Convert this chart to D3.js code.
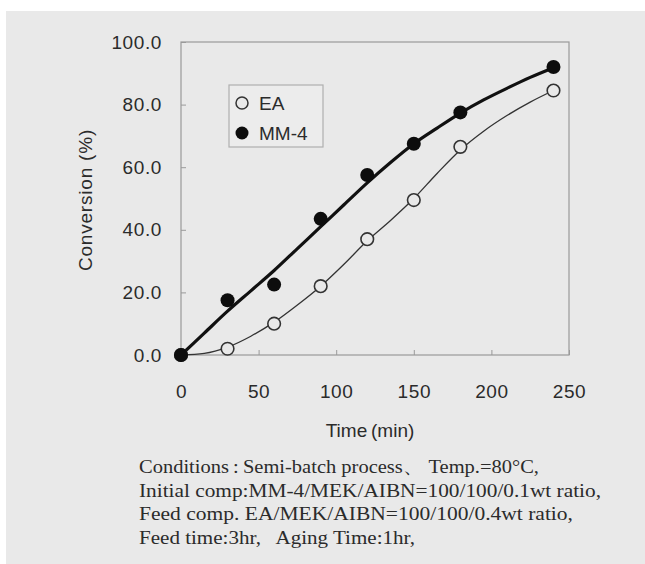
<!DOCTYPE html>
<html>
<head>
<meta charset="utf-8">
<script src="https://cdn.jsdelivr.net/npm/d3@7"></script>
<style>
  html, body { margin: 0; padding: 0; background: #ffffff; }
  svg { display: block; }
</style>
</head>
<body>
<div id="chart"></div>
<script>
"use strict";

// measured points (min, %)
var times = [0, 30, 60, 90, 120, 150, 180, 240];
var convEA = [0, 2, 10, 22, 37, 49.5, 66.5, 84.5];
var convMM4 = [0, 17.5, 22.5, 43.5, 57.5, 67.5, 77.5, 92];

// fitted curves
var fitTimes = [0, 15, 30, 45, 60, 75, 90, 105, 120, 135, 150, 165, 180, 195, 210, 225, 240];
var fitEA = [0, 0.5, 2.5, 6, 10.5, 16, 22, 29, 36.5, 43, 50, 58, 65.5, 71.5, 76.5, 80.8, 84.5];
var fitMM4 = [0, 7, 14, 20.5, 27, 34, 41, 48, 55, 61.5, 67.5, 72.5, 77.3, 81.5, 85.2, 88.7, 91.8];

var xTicks = [0, 50, 100, 150, 200, 250];
var yTicks = [0, 20, 40, 60, 80, 100];

var notes = [
  "Conditions\u2009:\u2009Semi-batch process\u3001 Temp.=80\u00B0C,",
  "Initial comp:MM-4/MEK/AIBN=100/100/0.1wt ratio,",
  "Feed comp. EA/MEK/AIBN=100/100/0.4wt ratio,",
  "Feed time:3hr,\u2002 Aging Time:1hr,"
];
// rendered width of each note line in the original
var noteWidths = [400, 462, 434, 276];

var W = 645, H = 564;
var bg = "#e9e9e9",
    ink = "#2b2b2b",
    frame = "#9a9a9a",
    sans = "'Liberation Sans', Arial, sans-serif",
    serif = "'Liberation Serif', 'Times New Roman', serif";

var svg = d3.select("#chart")
  .append("svg")
  .attr("width", W)
  .attr("height", H);

// gray panel
svg.append("rect")
  .attr("x", 6).attr("y", 11)
  .attr("width", W - 6).attr("height", H - 11)
  .attr("fill", bg);

var x = d3.scaleLinear().domain([0, 250]).range([181, 569]);
var y = d3.scaleLinear().domain([0, 100]).range([355, 42]);

// plot frame
svg.append("rect")
  .attr("x", x(0)).attr("y", y(100))
  .attr("width", x(250) - x(0)).attr("height", y(0) - y(100))
  .attr("fill", "none")
  .attr("stroke", frame)
  .attr("stroke-width", 1.2);

var yAxis = svg.append("g")
  .attr("transform", "translate(" + x(0) + ",0)")
  .call(d3.axisLeft(y).tickValues(yTicks).tickSize(-5).tickPadding(19).tickFormat(d3.format(".1f")));

var xAxis = svg.append("g")
  .attr("transform", "translate(0," + y(0) + ")")
  .call(d3.axisBottom(x).tickValues(xTicks).tickSize(-5).tickPadding(30));

[xAxis, yAxis].forEach(function(g) {
  g.select(".domain").remove();
  g.selectAll(".tick line").attr("stroke", frame).attr("stroke-width", 1);
  g.selectAll(".tick text")
    .attr("fill", ink)
    .style("font-family", sans)
    .style("font-size", "19px")
    .style("letter-spacing", "0.6px");
});

// axis titles
svg.append("text")
  .attr("x", 370).attr("y", 437)
  .attr("text-anchor", "middle")
  .attr("fill", ink)
  .style("font-family", sans)
  .style("font-size", "19px")
  .text("Time\u2009(min)");

svg.append("text")
  .attr("transform", "translate(92,200) rotate(-90)")
  .attr("text-anchor", "middle")
  .attr("fill", ink)
  .style("font-family", sans)
  .style("font-size", "19px")
  .style("letter-spacing", "0.8px")
  .text("Conversion (%)");

// fitted curves
var line = d3.line()
  .x(function(d) { return x(d[0]); })
  .y(function(d) { return y(d[1]); })
  .curve(d3.curveMonotoneX);

svg.append("path")
  .datum(fitTimes.map(function(t, i) { return [t, fitEA[i]]; }))
  .attr("d", line)
  .attr("fill", "none")
  .attr("stroke", "#333")
  .attr("stroke-width", 1.3);

svg.append("path")
  .datum(fitTimes.map(function(t, i) { return [t, fitMM4[i]]; }))
  .attr("d", line)
  .attr("fill", "none")
  .attr("stroke", "#111")
  .attr("stroke-width", 3.2);

// markers
svg.append("g")
  .selectAll("circle")
  .data(times.map(function(t, i) { return [t, convEA[i]]; }))
  .enter()
  .append("circle")
  .attr("cx", function(d) { return x(d[0]); })
  .attr("cy", function(d) { return y(d[1]); })
  .attr("r", 6.3)
  .attr("fill", bg)
  .attr("stroke", "#333")
  .attr("stroke-width", 1.6);

svg.append("g")
  .selectAll("circle")
  .data(times.map(function(t, i) { return [t, convMM4[i]]; }))
  .enter()
  .append("circle")
  .attr("cx", function(d) { return x(d[0]); })
  .attr("cy", function(d) { return y(d[1]); })
  .attr("r", 7)
  .attr("fill", "#0d0d0d");

// legend
var legend = svg.append("g");
legend.append("rect")
  .attr("x", 229).attr("y", 85)
  .attr("width", 94).attr("height", 62)
  .attr("fill", "#ececec")
  .attr("stroke", "#b0b0b0")
  .attr("stroke-width", 1.2);

var items = legend.selectAll("g.item")
  .data(["EA", "MM-4"])
  .enter()
  .append("g")
  .attr("class", "item")
  .attr("transform", function(d, i) { return "translate(242," + (103 + i * 30) + ")"; });

items.append("circle")
  .attr("r", function(d, i) { return i ? 6.5 : 6; })
  .attr("fill", function(d, i) { return i ? "#0d0d0d" : bg; })
  .attr("stroke", function(d, i) { return i ? "none" : "#333"; })
  .attr("stroke-width", 1.5);

items.append("text")
  .attr("x", 17)
  .attr("dy", "0.36em")
  .attr("fill", ink)
  .style("font-family", sans)
  .style("font-size", "19px")
  .text(function(d) { return d; });

// conditions note
svg.append("g")
  .selectAll("text")
  .data(notes)
  .enter()
  .append("text")
  .attr("x", 139)
  .attr("y", function(d, i) { return 473 + i * 23.5; })
  .attr("textLength", function(d, i) { return noteWidths[i]; })
  .attr("lengthAdjust", "spacingAndGlyphs")
  .attr("fill", ink)
  .style("font-family", serif)
  .style("font-size", "18px")
  .text(function(d) { return d; });
</script>
</body>
</html>
